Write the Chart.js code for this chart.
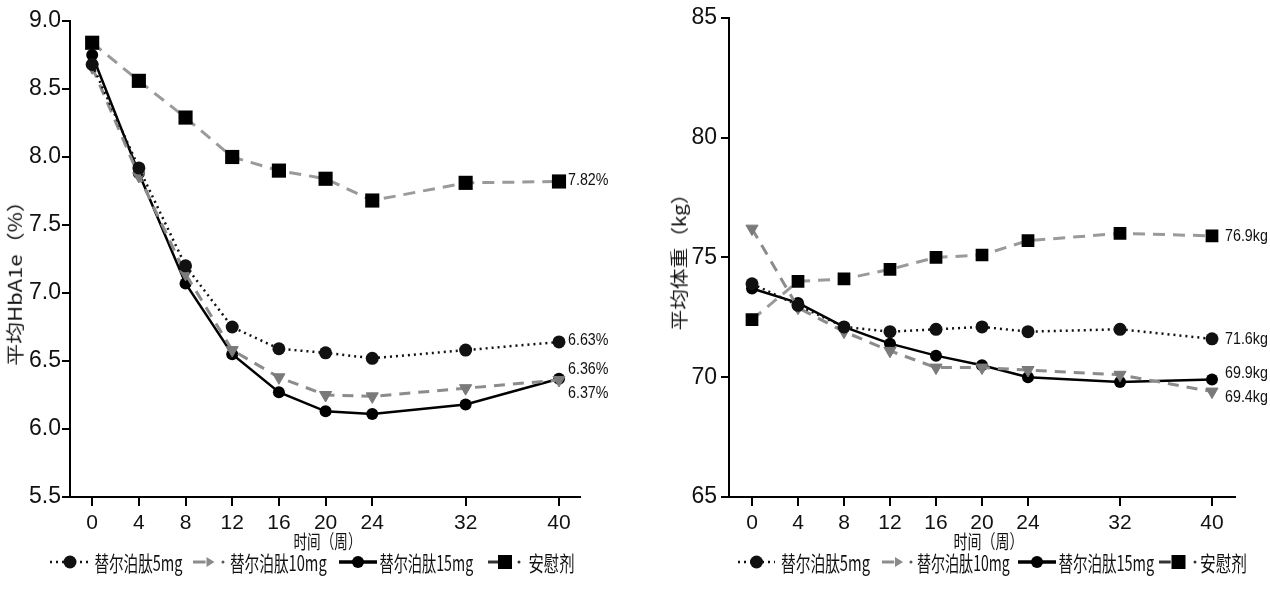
<!DOCTYPE html>
<html><head><meta charset="utf-8">
<script src="https://cdn.jsdelivr.net/npm/chart.js@4.4.1/dist/chart.umd.min.js"></script>
<style>
html,body{margin:0;padding:0;background:#fff;}
#wrap{position:relative;width:1270px;height:614px;overflow:hidden;background:#fff;}
.panel{position:absolute;top:0;width:635px;height:614px;}
.txt{position:absolute;white-space:nowrap;font-family:"Noto Sans CJK SC",sans-serif;color:#111;line-height:1;transform-origin:center center;}
svg.icon{position:absolute;overflow:visible;}
</style></head>
<body><div id="wrap">
<div class="panel" style="left:0"><canvas id="c1"></canvas></div>
<div class="panel" style="left:635px"><canvas id="c2"></canvas></div>
</div>
<script>
// ---- data ----
const weeks = [0, 4, 8, 12, 16, 20, 24, 32, 40];
const xTickValues = [0, 4, 8, 12, 16, 20, 24, 32, 40];
const seriesNames = ['替尔泊肽5mg', '替尔泊肽10mg', '替尔泊肽15mg', '安慰剂'];

const hba1c5mg     = [8.68, 7.92, 7.20, 6.75, 6.59, 6.56, 6.52, 6.58, 6.64];
const hba1c10mg    = [8.66, 7.86, 7.14, 6.58, 6.38, 6.25, 6.24, 6.30, 6.36];
const hba1c15mg    = [8.75, 7.88, 7.07, 6.55, 6.27, 6.13, 6.11, 6.18, 6.37];
const hba1cPlacebo = [8.84, 8.56, 8.29, 8.00, 7.90, 7.84, 7.68, 7.81, 7.82];
const hba1cEndLabels = ['6.63%', '6.36%', '6.37%', '7.82%'];

const weight5mg     = [73.9, 73.0, 72.1, 71.9, 72.0, 72.1, 71.9, 72.0, 71.6];
const weight10mg    = [76.2, 72.9, 71.9, 71.1, 70.4, 70.4, 70.3, 70.1, 69.4];
const weight15mg    = [73.7, 73.1, 72.1, 71.4, 70.9, 70.5, 70.0, 69.8, 69.9];
const weightPlacebo = [72.4, 74.0, 74.1, 74.5, 75.0, 75.1, 75.7, 76.0, 75.9];
const weightEndLabels = ['71.6kg', '69.4kg', '69.9kg', '76.9kg'];

const hba1cTitle = '平均HbA1e（%）';
const weightTitle = '平均体重（kg）';
const xTitle = '时间（周）';

// ---- helpers ----
const NUM_FONT = '"Liberation Sans", Arial, sans-serif';

function pts(vals) { return weeks.map((w, i) => ({ x: w, y: vals[i] })); }

function makeDatasets(vals, squareR) {
  return [
    { label: seriesNames[0], data: pts(vals[0]), borderColor: '#111', borderWidth: 2.5, borderDash: [2, 4],
      pointStyle: 'circle', pointRadius: 6.5, pointBackgroundColor: '#111', pointBorderColor: '#111', pointBorderWidth: 0 },
    { label: seriesNames[1], data: pts(vals[1]), borderColor: '#8c8c8c', borderWidth: 3, borderDash: [11, 8],
      pointStyle: 'triangle', pointRotation: 180, pointRadius: 7, pointBackgroundColor: '#7a7a7a', pointBorderColor: '#7a7a7a', pointBorderWidth: 1 },
    { label: seriesNames[2], data: pts(vals[2]), borderColor: '#000', borderWidth: 2.5,
      pointStyle: 'circle', pointRadius: 6, pointBackgroundColor: '#000', pointBorderColor: '#000', pointBorderWidth: 0 },
    { label: seriesNames[3], data: pts(vals[3]), borderColor: '#9a9a9a', borderWidth: 3, borderDash: [12, 8],
      pointStyle: 'rect', pointRadius: squareR, pointBackgroundColor: '#000', pointBorderColor: '#000', pointBorderWidth: 0 }
  ];
}

const endLabelPlugin = {
  id: 'endLabels',
  afterDatasetsDraw(chart, args, opts) {
    const ctx = chart.ctx;
    chart.data.datasets.forEach((ds, i) => {
      const meta = chart.getDatasetMeta(i);
      const p = meta.data[meta.data.length - 1];
      const off = opts.offsets[i];
      ctx.save();
      ctx.translate(p.x + off.dx, p.y + off.dy);
      ctx.scale(0.84, 1);
      ctx.font = '17px ' + NUM_FONT;
      ctx.fillStyle = '#111';
      ctx.textAlign = 'left';
      ctx.textBaseline = 'middle';
      ctx.fillText(opts.labels[i], 0, 0);
      ctx.restore();
    });
  }
};

function makeChart(id, vals, cfg) {
  return new Chart(document.getElementById(id), {
    type: 'line',
    data: { datasets: makeDatasets(vals, cfg.squareR) },
    options: {
      responsive: true, maintainAspectRatio: false, animation: false, devicePixelRatio: 1,
      layout: { padding: cfg.padding },
      plugins: { legend: { display: false }, tooltip: { enabled: false },
        endLabels: { labels: cfg.endLabels, offsets: cfg.offsets } },
      elements: { line: { tension: 0 } },
      scales: {
        x: {
          type: 'linear', min: cfg.xMin, max: cfg.xMax,
          afterBuildTicks: s => { s.ticks = xTickValues.map(v => ({ value: v })); },
          afterFit: s => { s.height = 117; },
          grid: { display: true, drawOnChartArea: false, drawTicks: true, tickLength: 9, color: '#000', lineWidth: 2 },
          border: { display: true, color: '#000', width: 2 },
          ticks: { autoSkip: false, maxRotation: 0, padding: 5, color: '#111', font: { family: NUM_FONT, size: 21 } }
        },
        y: {
          min: cfg.yMin, max: cfg.yMax,
          afterFit: s => { s.width = cfg.yWidth; },
          grid: { display: true, drawOnChartArea: false, drawTicks: true, tickLength: 8, color: '#000', lineWidth: 2 },
          border: { display: true, color: '#000', width: 2 },
          ticks: { stepSize: cfg.yStep, padding: cfg.yPad, color: '#111', font: { family: NUM_FONT, size: 23 },
            callback: v => cfg.yDecimals ? Number(v).toFixed(cfg.yDecimals) : String(v) }
        }
      }
    },
    plugins: [endLabelPlugin]
  });
}

makeChart('c1', [hba1c5mg, hba1c10mg, hba1c15mg, hba1cPlacebo], {
  squareR: 10, padding: { top: 21, right: 55, left: 0, bottom: 0 },
  xMin: -1.9, xMax: 41.8, yMin: 5.5, yMax: 9.0, yStep: 0.5, yDecimals: 1, yWidth: 70, yPad: 1,
  endLabels: hba1cEndLabels,
  offsets: [{ dx: 9, dy: -2 }, { dx: 9, dy: -11 }, { dx: 9, dy: 15 }, { dx: 9, dy: -1 }]
});
makeChart('c2', [weight5mg, weight10mg, weight15mg, weightPlacebo], {
  squareR: 9, padding: { top: 16, right: 35, left: 0, bottom: 0 },
  xMin: -2, xMax: 42, yMin: 65, yMax: 85, yStep: 5, yDecimals: 0, yWidth: 94, yPad: 4,
  endLabels: weightEndLabels,
  offsets: [{ dx: 13, dy: 0 }, { dx: 13, dy: 6 }, { dx: 13, dy: -6 }, { dx: 13, dy: 0 }]
});

// ---- text overlays ----
const wrap = document.getElementById('wrap');
function placeText(str, cx, cy, targetW, size, rot) {
  const s = document.createElement('span');
  s.className = 'txt';
  s.textContent = str;
  s.style.fontSize = size + 'px';
  wrap.appendChild(s);
  const w = s.offsetWidth, h = s.offsetHeight;
  s.style.left = (cx - w / 2) + 'px';
  s.style.top = (cy - h / 2) + 'px';
  s.style.transform = 'rotate(' + (rot || 0) + 'deg) scaleX(' + (targetW / w) + ')';
}
placeText(hba1cTitle, 14, 278, 176, 18, -90);
placeText(weightTitle, 678, 257, 147, 18, -90);
placeText(xTitle, 327, 540, 68, 19, 0);
placeText(xTitle, 988, 540, 70, 19, 0);

// legend
const NS = 'http://www.w3.org/2000/svg';
function icon(kind, x0, x1, cy) {
  const w = x1 - x0, h = 20, m = h / 2;
  const svg = document.createElementNS(NS, 'svg');
  svg.setAttribute('class', 'icon');
  svg.setAttribute('width', w); svg.setAttribute('height', h);
  svg.style.left = x0 + 'px'; svg.style.top = (cy - m) + 'px';
  const c = w / 2;
  let html = '';
  if (kind === 0) {
    html = `<line x1="0" y1="${m}" x2="${w}" y2="${m}" stroke="#111" stroke-width="2.5" stroke-dasharray="2 4"/>` +
           `<circle cx="${c}" cy="${m}" r="6.5" fill="#111"/>`;
  } else if (kind === 1) {
    html = `<line x1="0" y1="${m}" x2="${w * 0.38}" y2="${m}" stroke="#8c8c8c" stroke-width="3"/>` +
           `<polygon points="${c - 3},${m - 5} ${c + 5},${m} ${c - 3},${m + 5}" fill="#8a8a8a"/>` +
           `<circle cx="${w - 3}" cy="${m}" r="1.5" fill="#555"/>`;
  } else if (kind === 2) {
    html = `<line x1="0" y1="${m}" x2="${w}" y2="${m}" stroke="#000" stroke-width="3.5"/>` +
           `<circle cx="${c}" cy="${m}" r="6" fill="#000"/>`;
  } else {
    html = `<line x1="0" y1="${m}" x2="${w * 0.3}" y2="${m}" stroke="#333" stroke-width="3"/>` +
           `<rect x="${c - 7}" y="${m - 7}" width="14" height="14" fill="#000"/>` +
           `<circle cx="${w - 3}" cy="${m}" r="1.5" fill="#333"/>`;
  }
  svg.innerHTML = html;
  wrap.appendChild(svg);
}
const legendY = 562;
const leftIcons = [[50, 90], [193, 226], [339, 377], [488, 522]];
const leftTexts = [[94, 182], [230, 327], [379, 473], [528, 574]];
const rightIcons = [[738, 775], [882, 914], [1018, 1056], [1159, 1198]];
const rightTexts = [[781, 870], [917, 1010], [1058, 1154], [1200, 1247]];
[[leftIcons, leftTexts], [rightIcons, rightTexts]].forEach(([ics, txs]) => {
  ics.forEach((r, i) => icon(i, r[0], r[1], legendY));
  txs.forEach((r, i) => placeText(seriesNames[i], (r[0] + r[1]) / 2, legendY, r[1] - r[0], 21, 0));
});
</script>
</body></html>
